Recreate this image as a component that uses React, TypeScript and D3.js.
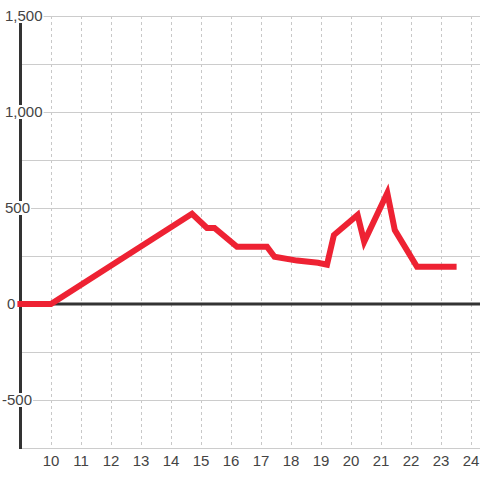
import React from "react";
import * as d3 from "d3";

const xValues = [8.88, 10, 14.7, 15.2, 15.45, 16.2, 17.2, 17.45, 18.2, 18.9, 19.2, 19.43, 20.22, 20.44, 21.21, 21.46, 22.2, 23.52];
const yValues = [0, 0, 470, 396, 396, 298, 298, 246, 226, 215, 205, 359, 464, 324, 578, 385, 194, 194];
const yTicks = [-500, 0, 500, 1000, 1500];
const yGrid = [-750, -500, -250, 250, 500, 750, 1000, 1250, 1500];
const xTicks = [10, 11, 12, 13, 14, 15, 16, 17, 18, 19, 20, 21, 22, 23, 24];

const W = 480;
const H = 480;
const BG = "#ffffff";

export default function App() {
  const x = d3.scaleLinear().domain([9, 24]).range([21, 471]);
  const y = d3.scaleLinear().domain([-750, 1500]).range([448, 16]);
  const pts: [number, number][] = xValues.map((v, i) => [v, yValues[i]]);
  const line = d3
    .line<[number, number]>()
    .x((d) => x(d[0]))
    .y((d) => y(d[1]));
  const fmt = d3.format(",");
  const font = "'Liberation Sans', Arial, sans-serif";
  const labelX = (t: number) => (t < 0 ? 2 : t === 0 ? 7 : 5);

  return (
    <div style={{ position: "fixed", left: 0, top: 0 }}>
      <svg width={W} height={H} style={{ display: "block", background: BG }}>
        <rect x={0} y={0} width={W} height={H} fill={BG} />
        {xTicks.map((t) => (
          <line
            key={"vx" + t}
            x1={x(t) + 0.5}
            x2={x(t) + 0.5}
            y1={16}
            y2={448}
            stroke="#c8c8c8"
            strokeWidth={1}
            strokeDasharray="3,3"
          />
        ))}
        {yGrid.map((t) => (
          <line
            key={"hy" + t}
            x1={20}
            x2={480}
            y1={Math.round(y(t)) + 0.5}
            y2={Math.round(y(t)) + 0.5}
            stroke="#cccccc"
            strokeWidth={1}
          />
        ))}
        <line x1={20.5} x2={20.5} y1={16} y2={449} stroke="#333333" strokeWidth={3} />
        <line x1={20} x2={480} y1={y(0)} y2={y(0)} stroke="#333333" strokeWidth={3} />
        {yTicks.map((t) => {
          const s = fmt(t).replace("−", "-");
          const w = s.replace(",", "").length * 8.34 + (s.includes(",") ? 4.2 : 0) - (t < 0 ? 3.3 : 0);
          return (
            <g key={"yl" + t}>
              {t !== 0 && (
                <rect x={labelX(t)} y={y(t) - 7} width={w + 1} height={14} fill={BG} />
              )}
              <text
                x={labelX(t)}
                y={y(t)}
                dy="0.35em"
                fontSize={15}
                fontFamily={font}
                fill="#444444"
              >
                {s}
              </text>
            </g>
          );
        })}
        {xTicks.map((t) => (
          <text
            key={"xl" + t}
            x={x(t)}
            y={466}
            textAnchor="middle"
            fontSize={15}
            fontFamily={font}
            fill="#444444"
          >
            {t}
          </text>
        ))}
        <path
          d={line(pts) || ""}
          fill="none"
          stroke="#ee2233"
          strokeWidth={6}
          strokeLinejoin="miter"
          strokeMiterlimit={4}
        />
      </svg>
    </div>
  );
}
